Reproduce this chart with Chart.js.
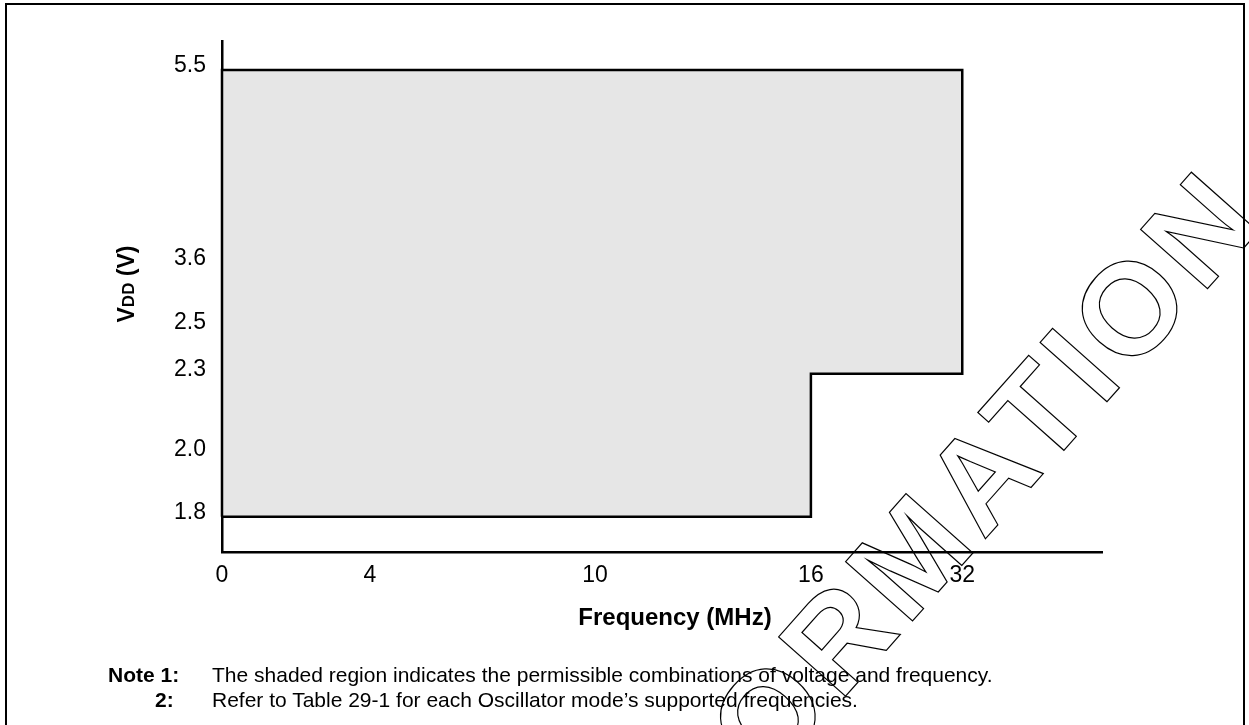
<!DOCTYPE html>
<html>
<head>
<meta charset="utf-8">
<script src="https://cdn.jsdelivr.net/npm/chart.js@4.4.1/dist/chart.umd.min.js"></script>
<style>
  html, body { margin: 0; padding: 0; background: #fff; }
  #wrap { position: relative; width: 1249px; height: 725px; overflow: hidden;
          font-family: 'Liberation Sans', Arial, sans-serif; color: #000; }
  #frame { position: absolute; left: 5px; top: 3px; width: 1240px; height: 800px;
           border: 2px solid #000; box-sizing: border-box; }
  canvas { position: absolute; left: 0; top: 0; }
  #ytitle { position: absolute; left: 126px; top: 284px; font-weight: bold; font-size: 23px;
            white-space: nowrap; transform: translate(-50%, -50%) rotate(-90deg); }
  #ytitle small { font-size: 17px; }
  #xtitle { position: absolute; left: 675px; top: 603px; font-weight: bold; font-size: 24px;
            white-space: nowrap; transform: translateX(-50%); }
  .note { position: absolute; font-size: 21px; line-height: 25px; white-space: nowrap; }
</style>
</head>
<body>
<div id="wrap">
  <canvas id="chart" width="1249" height="725"></canvas>
  <div id="frame"></div>
  <div id="ytitle">V<small>DD</small> (V)</div>
  <div id="xtitle">Frequency (MHz)</div>
  <div class="note" style="left:108px; top:662px;"><b>Note 1:</b></div>
  <div class="note" style="left:212px; top:662px;">The shaded region indicates the permissible combinations of voltage and frequency.</div>
  <div class="note" style="left:155px; top:687px;"><b>2:</b></div>
  <div class="note" style="left:212px; top:687px;">Refer to Table 29-1 for each Oscillator mode’s supported frequencies.</div>
</div>
<script>
// axis ticks (MHz and volts)
const freqTicks = [0, 4, 10, 16, 32];
const vddTicks = [1.8, 2.0, 2.3, 2.5, 3.6, 5.5];

// outline of the permitted operating region, walked round in order
const regionFreq = [0, 16, 16, 32, 32, 0, 0];
const regionVdd = [1.8, 1.8, 2.3, 2.3, 5.5, 5.5, 1.8];

// the drawing's axes are not to scale: value -> fraction of axis length
const axisStops = {
    x: [[0, 0], [4, 0.1682], [10, 0.424], [16, 0.6692], [32, 0.8412], [40, 1]],
    y: [[1.6, 0], [1.8, 0.0704], [2.0, 0.1939], [2.3, 0.3498], [2.5, 0.4411], [3.6, 0.5671], [5.5, 0.9433], [5.8, 1]]
};

function lerpStops(stops, v, from, to) {
    for (let i = 1; i < stops.length; i++) {
        if (v <= stops[i][from] || i === stops.length - 1) {
            const t = (v - stops[i - 1][from]) / (stops[i][from] - stops[i - 1][from]);
            return stops[i - 1][to] + t * (stops[i][to] - stops[i - 1][to]);
        }
    }
}

// linear scale with piecewise spacing between the stops
class StepScale extends Chart.LinearScale {
    getPixelForValue(value) {
        if (value === null || value === undefined || isNaN(value)) return NaN;
        return this.getPixelForDecimal(lerpStops(axisStops[this.id], value, 0, 1));
    }
    getValueForPixel(pixel) {
        return lerpStops(axisStops[this.id], this.getDecimalForPixel(pixel), 1, 0);
    }
}
StepScale.id = 'stepped';
StepScale.defaults = Chart.LinearScale.defaults;
Chart.register(StepScale);

const regionPoints = regionFreq.map((f, i) => ({ x: f, y: regionVdd[i] }));

const tickFont = { family: "'Liberation Sans', Arial, sans-serif", size: 23 };

// draws the outlined watermark across the lower right
const watermark = {
    id: 'watermark',
    afterDraw(chart) {
        const ctx = chart.ctx;
        ctx.save();
        ctx.translate(615, 956);
        ctx.rotate(-48.4 * Math.PI / 180);
        ctx.font = "bold 130px 'Liberation Sans', Arial, sans-serif";
        ctx.letterSpacing = '7px';
        ctx.lineWidth = 1.2;
        ctx.strokeStyle = '#000';
        ctx.strokeText('INFORMATION', 0, 0);
        ctx.restore();
    }
};

new Chart(document.getElementById('chart'), {
    type: 'scatter',
    data: {
        datasets: [{
            data: regionPoints,
            showLine: true,
            fill: 'shape',
            backgroundColor: '#e6e6e6',
            borderColor: '#000',
            borderWidth: 2.5,
            borderJoinStyle: 'miter',
            pointRadius: 0,
            tension: 0,
            clip: false
        }]
    },
    options: {
        responsive: false,
        animation: false,
        devicePixelRatio: 1,
        layout: { padding: { left: 0, top: 41, right: 147, bottom: 0 } },
        plugins: { legend: { display: false }, tooltip: { enabled: false } },
        scales: {
            x: {
                type: 'stepped',
                min: 0,
                max: 40,
                afterBuildTicks: (axis) => { axis.ticks = freqTicks.map(v => ({ value: v })); },
                afterFit: (axis) => { axis.height = 172.3; },
                grid: { display: false, drawTicks: false },
                border: { display: true, color: '#000', width: 2.5 },
                ticks: { autoSkip: false, maxRotation: 0, padding: 9, color: '#000', font: tickFont,
                         callback: (v) => String(v) }
            },
            y: {
                type: 'stepped',
                min: 1.6,
                max: 5.8,
                afterBuildTicks: (axis) => { axis.ticks = vddTicks.map(v => ({ value: v })); },
                afterFit: (axis) => { axis.width = 222; },
                grid: { display: false, drawTicks: false },
                border: { display: true, color: '#000', width: 2.5 },
                ticks: { autoSkip: false, padding: 16, labelOffset: -4, color: '#000', font: tickFont,
                         callback: (v) => v.toFixed(1) }
            }
        }
    },
    plugins: [watermark]
});
</script>
</body>
</html>
